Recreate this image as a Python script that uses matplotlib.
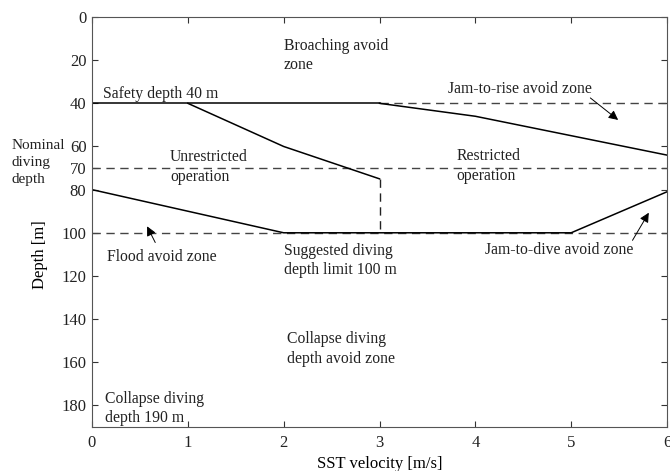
import matplotlib.pyplot as plt

plt.rcParams['font.family'] = ['Liberation Serif', 'DejaVu Serif']
plt.rcParams['font.size'] = 11.3

# boundary curves (velocity m/s, depth m)
broach_x = [0, 3]
broach_y = [40, 40]
rise_x = [3, 4, 6]
rise_y = [40, 46, 64]
unres_x = [1, 2, 3]
unres_y = [40, 60, 75]
flood_x = [0, 2, 5, 6]
flood_y = [80, 100, 100, 81]
split_x = [3, 3]
split_y = [75, 100]
# dashed reference depths
ref_depths = [40, 70, 100]
ref_start = [3, 0, 0]

yticks = [0, 20, 40, 60, 70, 80, 100, 120, 140, 160, 180]

fig = plt.figure(figsize=(6.7, 4.71), dpi=100)
ax = fig.add_axes([92/670, 1 - 427/471, 575/670, 410/471])

dash = (0, (6, 4))
for d, s in zip(ref_depths, ref_start):
    ax.plot([s, 6], [d, d], color='#444444', lw=1, linestyle=dash)
ax.plot(split_x, split_y, color='#222222', lw=1, linestyle=dash)

for xs, ys in [(broach_x, broach_y), (rise_x, rise_y), (unres_x, unres_y), (flood_x, flood_y)]:
    ax.plot(xs, ys, color='k', lw=1.1)

ax.set_xlim(0, 6)
ax.set_ylim(190, 0)
ax.set_yticks(yticks)
ax.set_xticks(range(7))
ax.tick_params(direction='in', top=True, right=True, length=4, pad=6,
               colors='#333333', labelcolor='#222222', labelsize=12)
ax.tick_params(axis='y', pad=4)
for sp in ax.spines.values():
    sp.set_color('#555555')

ax.set_xlabel('SST velocity [m/s]', fontsize=12)
ax.set_ylabel('Depth [m]', fontsize=12)
ax.xaxis.set_label_coords(0.5, -0.07)
ax.yaxis.set_label_coords(-0.077, 0.42)

lk = dict(va='center', ha='left', linespacing=1.27, color='#222222')
ax.text(2.0, 18, 'Broaching avoid\nzone', **lk)
ax.text(0.115, 35.5, 'Safety depth 40 m', **lk)
ax.text(3.71, 33.5, 'Jam-to-rise avoid zone', **lk)
ax.text(0.815, 69.5, 'Unrestricted\noperation', **lk)
ax.text(3.80, 69, 'Restricted\noperation', **lk)
ax.text(0.157, 111, 'Flood avoid zone', **lk)
ax.text(2.0, 113, 'Suggested diving\ndepth limit 100 m', **lk)
ax.text(4.1, 108, 'Jam-to-dive avoid zone', **lk)
ax.text(2.03, 153.8, 'Collapse diving\ndepth avoid zone', **lk)
ax.text(0.14, 181.3, 'Collapse diving\ndepth 190 m', **lk)
nk = dict(lk, linespacing=1.4)
ax.text(-0.84, 67.6, 'Nominal\ndiving\ndepth', clip_on=False, fontsize=11, **nk)

ap = dict(arrowstyle='-|>', color='k', lw=0.7, mutation_scale=14, shrinkA=0, shrinkB=0)
ax.annotate('', xy=(5.49, 47.7), xytext=(5.2, 37.5), arrowprops=ap)
ax.annotate('', xy=(0.575, 97), xytext=(0.66, 104.5), arrowprops=ap)
ax.annotate('', xy=(5.81, 90.7), xytext=(5.64, 103.5), arrowprops=ap)

fig.savefig('out.png', dpi=100)
